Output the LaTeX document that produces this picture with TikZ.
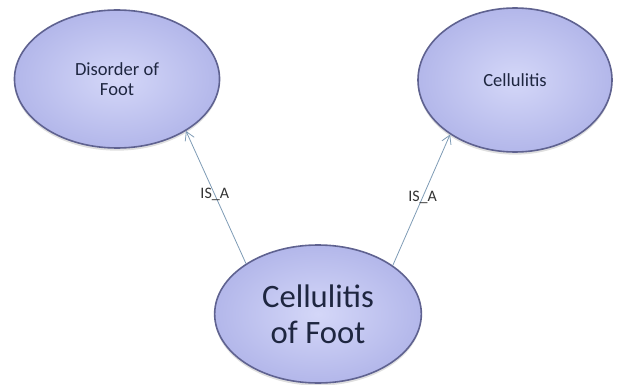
\documentclass[tikz,border=0pt]{standalone}
\usepackage{fontspec}
\setmainfont{Carlito}
\usepackage{tikz}
\usetikzlibrary{arrows.meta,shapes.geometric,shadows}
\definecolor{ovalin}{HTML}{D4D7F8}
\definecolor{ovalout}{HTML}{B3B7EA}
\definecolor{ovalrim}{HTML}{5F6290}
\definecolor{txtnavy}{HTML}{1E2640}
\definecolor{relblue}{HTML}{7E9BB5}
\tikzset{
  concept/.style={ellipse, draw=ovalrim, line width=1.2pt, inner color=ovalin, outer color=ovalout,
                  text=txtnavy, align=center,
                  drop shadow={opacity=0.25, shadow xshift=0pt, shadow yshift=-2pt}},
  isa/.style={-{Straight Barb[length=2.2mm, width=2.6mm]}, line width=0.6pt, draw=relblue},
  rel/.style={font=\fontsize{12}{14}\selectfont, text=black!80},
}
\begin{document}
\begin{tikzpicture}[x=0.75pt, y=-0.75pt]
        \useasboundingbox (0,0) rectangle (617,385);
        \node[concept, minimum width=153.8pt, minimum height=103.5pt,
              font=\fontsize{13.9}{15}\selectfont] (dof) at (117,79) {Disorder of\\Foot};
        \node[concept, minimum width=145.5pt, minimum height=108pt,
              font=\fontsize{13.9}{15}\selectfont] (cel) at (515,80) {Cellulitis};
        \node[concept, minimum width=155pt, minimum height=103.5pt,
              font=\fontsize{24.5}{27}\selectfont] (cof) at (318,314) {Cellulitis\\of Foot};
        \draw[isa] (cof.145) -- node[rel, pos=0.52] (l1) {IS\_A} (dof.323);
        \draw[isa] (cof.33) -- node[rel, pos=0.52] (l2) {IS\_A} (cel.220);
      \end{tikzpicture}
\end{document}
